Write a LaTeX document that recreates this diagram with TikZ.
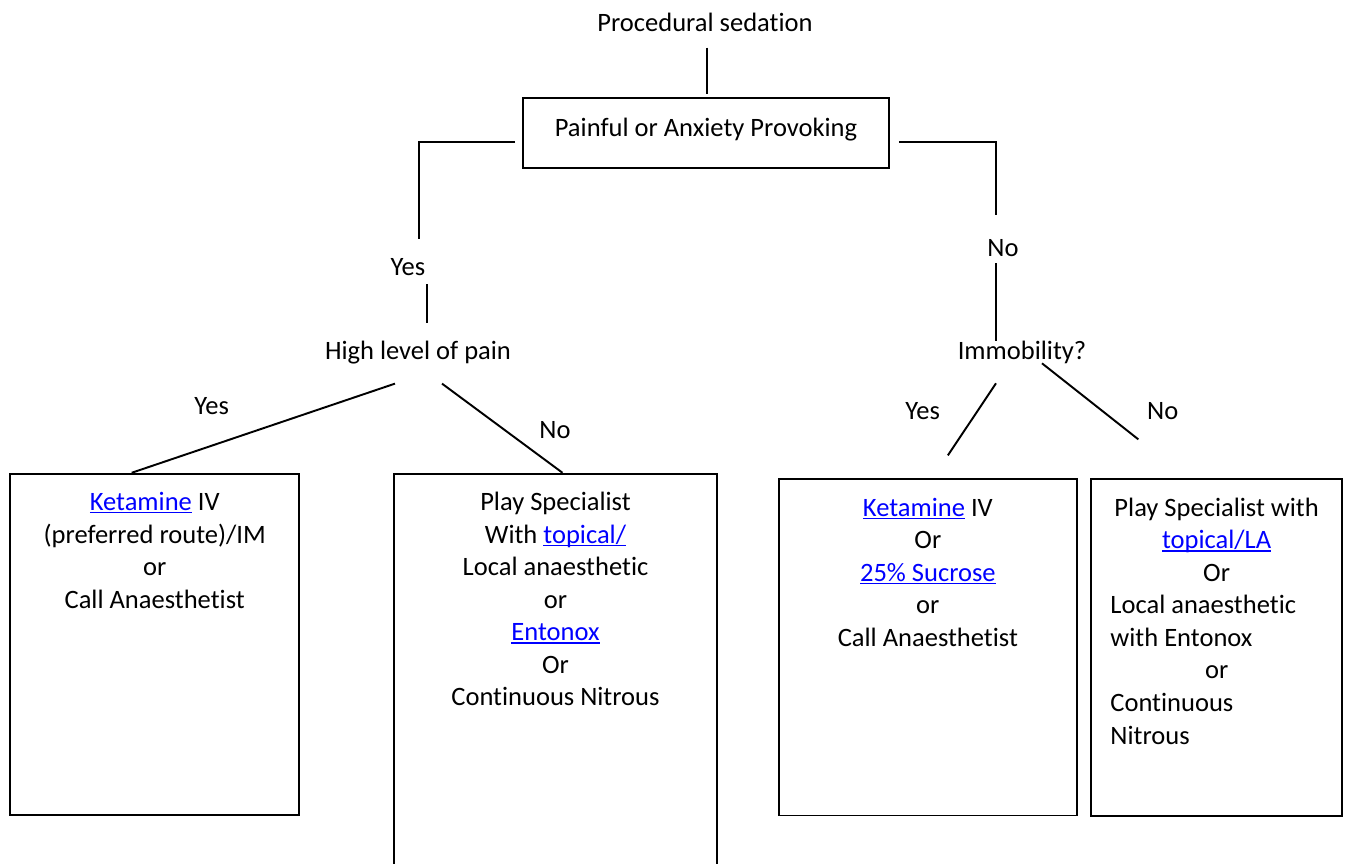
\documentclass[tikz,border=0pt]{standalone}
\usepackage{fontspec}
\setmainfont{Carlito}[Ligatures=NoCommon]
\usetikzlibrary{positioning}
\usetikzlibrary{calc}

\definecolor{linkblue}{RGB}{0,0,255}
\newcommand{\lnk}[1]{\textcolor{linkblue}{\setbox0\hbox{#1}\rlap{\rule[-1.7pt]{\wd0}{0.85pt}}\box0}}
\newcommand{\ctrline}[1]{\leavevmode\null\hfill#1\hfill\null}

\tikzset{
  lbl/.style={inner sep=0pt,text height=12.7pt,text depth=2.4pt},
  boxed/.style={draw,rectangle,line width=1.1pt,inner sep=0pt},
  boxtext/.style={anchor=north,inner sep=0pt,align=flush center},
  link/.style={line width=1.1pt}
}

\begin{document}
\begin{tikzpicture}[x=0.02cm,y=-0.02cm,font=\fontsize{15.1}{18.54}\selectfont]
\clip (0,0) rectangle (1345,863);
\fill[white] (0,0) rectangle (1345,863);

\node[lbl] (title) at (705,22) {Procedural sedation};
\node[boxed,minimum width=7.32cm,minimum height=1.4cm,text height=21.6pt,text depth=18.1pt] (q1) at (706,133) {Painful or Anxiety Provoking};

\node[lbl] (yes1) at (408,266.7) {Yes};
\node[lbl] (no1) at (1003,247.7) {No};
\node[lbl] (pain) at (418,350) {High level of pain};
\node[lbl] (immob) at (1022,350.7) {Immobility?};
\node[lbl] (yes2) at (211.7,405.7) {Yes};
\node[lbl] (no2) at (555,429.3) {No};
\node[lbl] (yes3) at (922.7,410) {Yes};
\node[lbl] (no3) at (1162.7,410) {No};

\node[boxed,minimum width=5.774cm,minimum height=6.832cm] (b1) at (154.7,644.5) {};
\node[boxed,minimum width=6.448cm,minimum height=8.126cm] (b2) at (555.5,676.85) {};
\node[boxed,minimum width=5.954cm,minimum height=6.724cm] (b3) at (927.85,647.4) {};
\node[boxed,minimum width=5.014cm,minimum height=6.728cm] (b4) at (1216.35,647.5) {};

\node[boxtext,text width=5.2cm] (t1) at ($(b1.north)+(0,17.5)$) {\rule{0pt}{11.3pt}\lnk{Ketamine} IV\\(preferred route)/IM\\or\\Call Anaesthetist};
\node[boxtext,text width=5.8cm] (t2) at ($(b2.north)+(0,17.5)$) {\rule{0pt}{11.3pt}Play Specialist\\With \lnk{topical/}\\Local anaesthetic\\or\\\lnk{Entonox}\\Or\\Continuous Nitrous};
\node[boxtext,text width=5.4cm] (t3) at ($(b3.north)+(0,17.5)$) {\rule{0pt}{11.3pt}\lnk{Ketamine} IV\\Or\\\lnk{25\% Sucrose}\\or\\Call Anaesthetist};
\node[boxtext,anchor=north west,align=flush left,text width=4.25cm] (t4) at ($(b4.north west)+(20,17.5)$) {\rule{0pt}{11.3pt}\ctrline{Play Specialist with}\\\ctrline{\lnk{topical/LA}}\\\ctrline{Or}\\Local anaesthetic\\with Entonox\\\ctrline{or}\\Continuous\\Nitrous};

\draw[link] ($(title.south)+(2,12)$) -- ($(q1.north)+(1,-3)$);
\draw[link] ($(q1.west)+(-7,9)$) -| ($(yes1.north)+(11,-14)$);
\draw[link] ($(q1.east)+(9,9)$) -| ($(no1.north)+(-7,-18.7)$);
\draw[link] ($(yes1.south)+(19,4)$) -- ($(pain.north)+(9,-13)$);
\draw[link] ($(no1.south)+(-7,2)$) -- ($(immob.north)+(-26,4)$);
\draw[link] ($(pain.south)+(-23,20)$) -- ($(b1.north)+(-23,0)$);
\draw[link] ($(pain.south)+(24,20)$) -- ($(b2.north)+(7,0)$);
\draw[link] ($(immob.south)+(-26,19)$) -- ($(b3.north)+(20,-23)$);
\draw[link] ($(immob.south)+(20,-1)$) -- ($(b4.north)+(-78,-39)$);

\end{tikzpicture}
\end{document}
